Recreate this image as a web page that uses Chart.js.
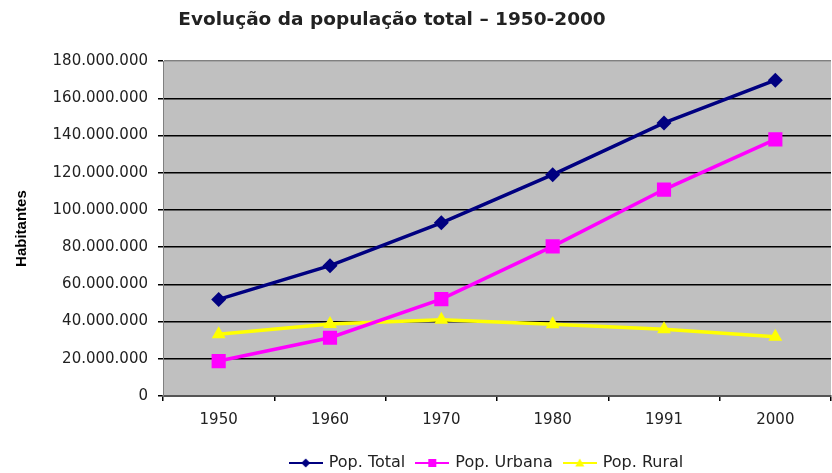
<!DOCTYPE html>
<html>
<head>
<meta charset="utf-8">
<script src="https://cdn.jsdelivr.net/npm/chart.js@4"></script>
<style>
html,body{margin:0;padding:0;background:#fff;}
canvas{display:block;}
</style>
</head>
<body>
<canvas id="c" width="832" height="473"></canvas>
<script>
const categories = ['1950', '1960', '1970', '1980', '1991', '2000'];
const popTotal  = [51944000, 70070000, 93139000, 119003000, 146825000, 169799000];
const popUrbana = [18783000, 31303000, 52085000, 80437000, 110991000, 137954000];
const popRural  = [33162000, 38767000, 41054000, 38566000, 35834000, 31845000];
const yTicks = [0, 20000000, 40000000, 60000000, 80000000, 100000000, 120000000, 140000000, 160000000, 180000000];
const titleText = 'Evolução da população total – 1950-2000';
const yTitleText = 'Habitantes';
const seriesNames = ['Pop. Total', 'Pop. Urbana', 'Pop. Rural'];

function fmt(n){ return String(n).replace(/\B(?=(\d{3})+(?!\d))/g, '.'); }

function drawMarker(ctx, style, x, y, r, color){
  ctx.fillStyle = color;
  ctx.beginPath();
  if (style === 'rectRot') {
    ctx.moveTo(x, y - r); ctx.lineTo(x + r, y); ctx.lineTo(x, y + r); ctx.lineTo(x - r, y);
  } else if (style === 'rect') {
    ctx.rect(x - r, y - r, 2 * r, 2 * r);
  } else {
    ctx.moveTo(x, y - r); ctx.lineTo(x + r, y + r * 0.8); ctx.lineTo(x - r, y + r * 0.8);
  }
  ctx.closePath();
  ctx.fill();
}
function legendIcon(color, style){
  const cv = document.createElement('canvas');
  cv.width = 34; cv.height = 12;
  const g = cv.getContext('2d');
  g.strokeStyle = color; g.lineWidth = 2;
  g.beginPath(); g.moveTo(0, 6); g.lineTo(34, 6); g.stroke();
  drawMarker(g, style, 17, 6, style === 'rect' ? 4 : 4.5, color);
  return cv;
}

const colors = ['#000080', '#ff00ff', '#ffff00'];
const styles = ['rectRot', 'rect', 'triangle'];
const icons = colors.map((c, i) => legendIcon(c, styles[i]));

const bgPlugin = {
  id: 'bg',
  beforeDraw(chart){
    const {ctx, chartArea: a} = chart;
    ctx.save();
    ctx.fillStyle = '#ffffff';
    ctx.fillRect(0, 0, chart.width, chart.height);
    ctx.fillStyle = '#c0c0c0';
    ctx.fillRect(a.left, a.top, a.right - a.left, a.bottom - a.top);
    ctx.restore();
  }
};
const shiftPlugin = {
  id: 'shift',
  afterLayout(chart){
    const t = chart.titleBlock, l = chart.legend;
    if (t) { const dx = 392 - (t.left + t.right) / 2; t.left += dx; t.right += dx; t.top += 3; t.bottom += 3; }
    if (l) { const dx = 487 - (l.left + l.right) / 2; l.left += dx; l.right += dx; l.top += 8; l.bottom += 8; }
  }
};

new Chart(document.getElementById('c'), {
  type: 'line',
  data: {
    labels: categories,
    datasets: [
      { label: seriesNames[0], data: popTotal, borderColor: colors[0], backgroundColor: colors[0],
        borderWidth: 3.5, pointStyle: 'rectRot', pointRadius: 7.5, pointBorderWidth: 0, tension: 0 },
      { label: seriesNames[1], data: popUrbana, borderColor: colors[1], backgroundColor: colors[1],
        borderWidth: 3.5, pointStyle: 'rect', pointRadius: 10, pointBorderWidth: 0, tension: 0 },
      { label: seriesNames[2], data: popRural, borderColor: colors[2], backgroundColor: colors[2],
        borderWidth: 3.5, pointStyle: 'triangle', pointRadius: 8, pointBorderWidth: 0, tension: 0 }
    ]
  },
  options: {
    responsive: false,
    animation: false,
    devicePixelRatio: 1,
    layout: { autoPadding: false, padding: { left: 6, right: 1, top: 0, bottom: 0 } },
    plugins: {
      title: {
        display: true, text: titleText, color: '#222',
        font: { family: 'DejaVu Sans', size: 18.5, weight: 'bold' },
        padding: { top: 6, bottom: 33 }
      },
      legend: {
        position: 'bottom',
        labels: {
          usePointStyle: true, pointStyleWidth: 30, padding: 12,
          color: '#222', font: { family: 'DejaVu Sans', size: 16 },
          generateLabels(chart){
            return chart.data.datasets.map((d, i) => ({
              text: d.label, pointStyle: icons[i], fillStyle: colors[i], strokeStyle: colors[i],
              lineWidth: 0, hidden: false, datasetIndex: i, fontColor: '#222'
            }));
          }
        }
      },
      tooltip: { enabled: false }
    },
    scales: {
      x: {
        offset: true,
        grid: { drawOnChartArea: false, drawTicks: true, offset: true, tickLength: 5, tickColor: '#000', lineWidth: 1.5 },
        border: { color: '#555', width: 2 },
        ticks: { color: '#222', font: { family: 'DejaVu Sans', size: 15 }, padding: 10, maxRotation: 0 },
        afterFit(s){ s.height = 39; s.paddingLeft = 0; s.paddingRight = 0; }
      },
      y: {
        min: 0, max: 180000000,
        afterBuildTicks(s){ s.ticks = yTicks.map(v => ({ value: v })); },
        grid: {
          color: c => c.tick && c.tick.value === 0 ? 'rgba(0,0,0,0)' : (c.tick && c.tick.value === 180000000 ? '#808080' : '#000'),
          lineWidth: 1.5, tickLength: 5, tickColor: '#000'
        },
        border: { color: '#808080', width: 1 },
        ticks: { color: '#222', font: { family: 'DejaVu Sans', size: 15 }, padding: 10, callback: v => fmt(v) },
        title: { display: true, text: yTitleText, color: '#000', font: { family: 'Liberation Sans', size: 15, weight: 'bold' }, padding: { top: 7, bottom: 0 } },
        afterFit(s){ s.width = 157; }
      }
    }
  },
  plugins: [bgPlugin, shiftPlugin]
});
</script>
</body>
</html>
